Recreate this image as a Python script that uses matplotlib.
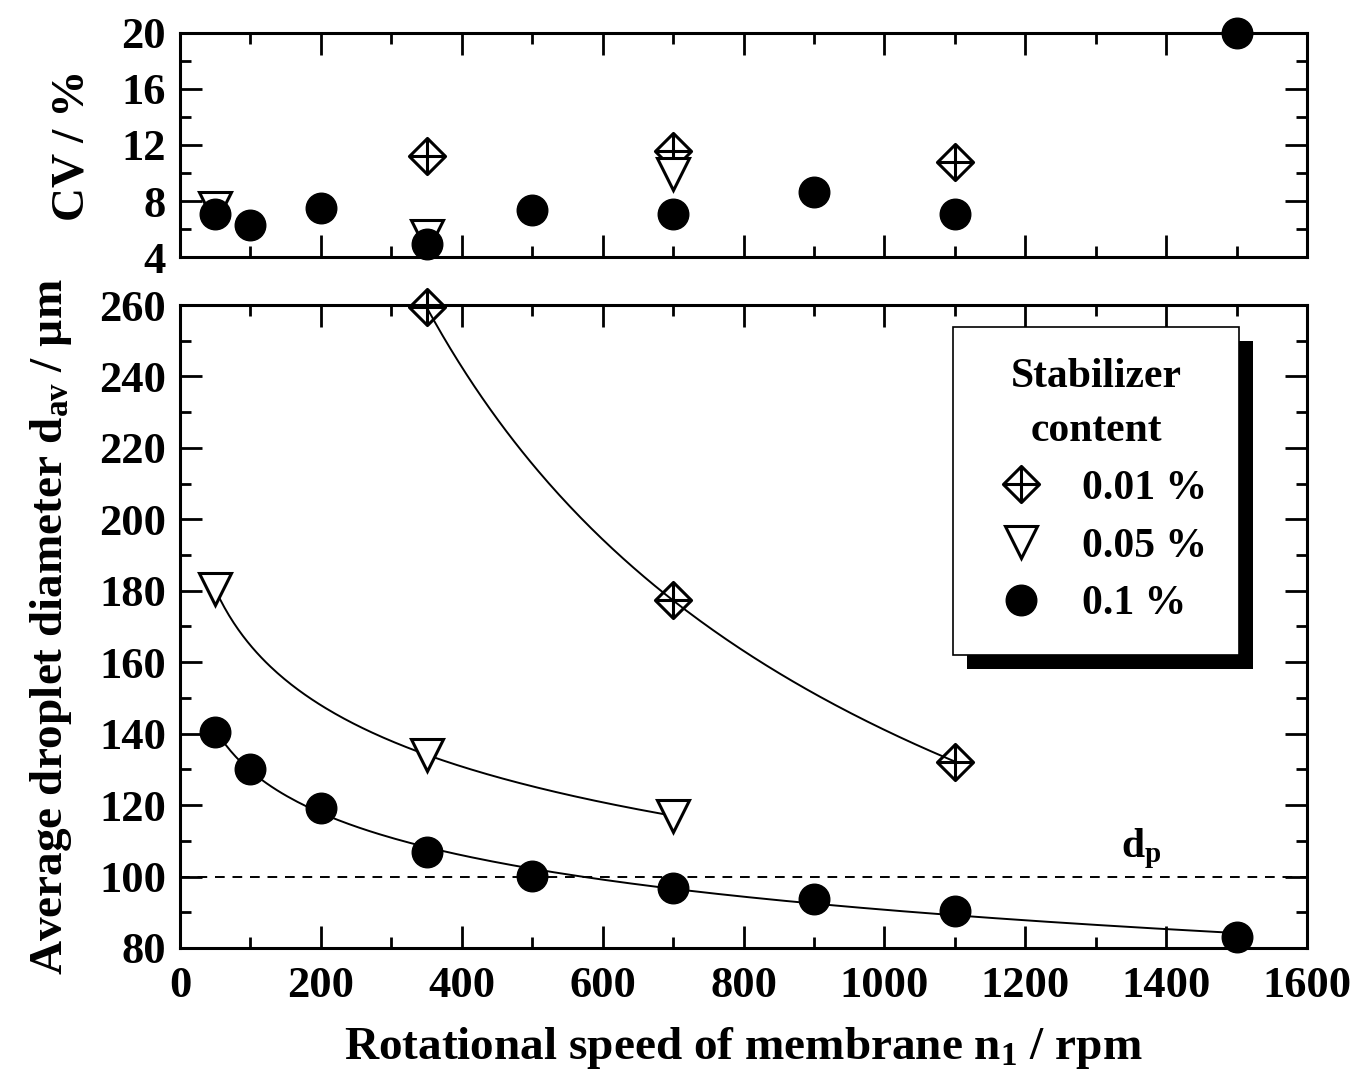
import numpy as np
import matplotlib
matplotlib.use("Agg")
import matplotlib.pyplot as plt
from matplotlib.path import Path
from matplotlib.patches import Rectangle
from matplotlib.transforms import IdentityTransform
from matplotlib.ticker import MultipleLocator

plt.rcParams['font.family'] = ['Liberation Serif', 'DejaVu Serif']
plt.rcParams['font.weight'] = 'bold'
plt.rcParams['axes.labelweight'] = 'bold'
plt.rcParams['mathtext.fontset'] = 'custom'
plt.rcParams['mathtext.rm'] = 'Liberation Serif:bold'
plt.rcParams['mathtext.bf'] = 'Liberation Serif:bold'
plt.rcParams['mathtext.it'] = 'Liberation Serif:bold:italic'
plt.rcParams['mathtext.default'] = 'rm'

# data
n_001 = [350, 700, 1100]
d_001 = [259.4, 177.3, 132.2]
cv_001 = [11.2, 11.6, 10.8]

n_005 = [50, 350, 700]
d_005 = [180.4, 134.1, 117.0]
cv_005 = [7.5, 5.5, 9.9]

n_01 = [50, 100, 200, 350, 500, 700, 900, 1100, 1500]
d_01 = [140.6, 130.2, 119.3, 106.9, 100.2, 96.8, 93.8, 90.4, 83.1]
cv_01 = [7.07, 6.3, 7.5, 4.9, 7.36, 7.07, 8.64, 7.07, 20.0]

pore_d = 100
labels = ['0.01 %', '0.05 %', '0.1 %']

# diamond with a cross inside
diam = Path([(0, 1), (1, 0), (0, -1), (-1, 0), (0, 1), (0, 1), (0, -1), (-1, 0), (1, 0)],
            [Path.MOVETO, Path.LINETO, Path.LINETO, Path.LINETO, Path.CLOSEPOLY,
             Path.MOVETO, Path.LINETO, Path.MOVETO, Path.LINETO])

sty = [
    dict(marker=diam, ms=26, mfc='none', mec='black', mew=2.2),
    dict(marker='v', ms=23, mfc='white', mec='black', mew=2.2),
    dict(marker='o', ms=22, mfc='black', mec='black', mew=1),
]

fig = plt.figure(figsize=(13.6, 10.84), dpi=100)
ax1 = fig.add_axes([0.1324, 0.7629, 0.8286, 0.2067])
ax2 = fig.add_axes([0.1324, 0.1255, 0.8286, 0.5931])

# top: CV
for n, cv, s in zip([n_001, n_005, n_01], [cv_001, cv_005, cv_01], sty):
    ax1.plot(n, cv, ls='none', clip_on=False, **s)

# bottom: diameter with fitted curves
handles = []
for n, d, s in zip([n_001, n_005, n_01], [d_001, d_005, d_01], sty):
    c = np.polyfit(np.log(n), np.log(d), 2)
    xx = np.linspace(min(n), max(n), 200)
    ax2.plot(xx, np.exp(np.polyval(c, np.log(xx))), color='black', lw=1.4, zorder=2)
    h, = ax2.plot(n, d, ls='none', clip_on=False, zorder=3, **s)
    handles.append(h)

ax2.axhline(pore_d, color='black', lw=1.4, ls=(0, (5, 4)), zorder=1)
ax2.text(1365, 101.5, 'd$_\\mathrm{p}$', fontsize=30, ha='center', va='bottom')

for ax in (ax1, ax2):
    ax.set_xlim(0, 1600)
    ax.xaxis.set_major_locator(MultipleLocator(200))
    ax.xaxis.set_minor_locator(MultipleLocator(100))
    ax.tick_params(which='both', direction='in', top=True, right=True, width=2, labelsize=32)
    ax.tick_params(which='major', length=16)
    ax.tick_params(which='minor', length=8)
    ax.tick_params(axis='y', pad=10)
    ax.tick_params(axis='x', pad=13)
    for sp in ax.spines.values():
        sp.set_linewidth(2.2)

ax1.set_ylim(4, 20)
ax1.yaxis.set_major_locator(MultipleLocator(4))
ax1.yaxis.set_minor_locator(MultipleLocator(2))
ax1.tick_params(labelbottom=False)
ax1.set_ylabel('CV / %', fontsize=34, labelpad=20)

ax2.set_ylim(80, 260)
ax2.yaxis.set_major_locator(MultipleLocator(20))
ax2.yaxis.set_minor_locator(MultipleLocator(10))
ax2.set_xlabel('Rotational speed of membrane n$_1$ / rpm', fontsize=34, labelpad=14)
ax2.set_ylabel('Average droplet diameter d$_{\\mathrm{av}}$ / µm', fontsize=34, labelpad=18)

leg = ax2.legend(handles, labels, title='Stabilizer\ncontent', loc='upper left',
                 bbox_to_anchor=(0.686, 0.966), borderaxespad=0, fontsize=30, title_fontsize=30,
                 frameon=True, fancybox=False, edgecolor='black', framealpha=1,
                 handletextpad=0.6, labelspacing=0.47, borderpad=0.75, handlelength=1.75,
                 markerscale=1.0)
leg.get_title().set_multialignment('center')
leg.get_title().set_linespacing(1.55)
leg.get_frame().set_linewidth(1.2)
leg.set_zorder(10)

fig.canvas.draw()
bb = leg.get_window_extent()
shadow = Rectangle((bb.x0 + 14, bb.y0 - 14), bb.width, bb.height, transform=IdentityTransform(),
                   facecolor='black', edgecolor='none', zorder=9, clip_on=False)
ax2.add_artist(shadow)

fig.savefig('out.png', dpi=100)
